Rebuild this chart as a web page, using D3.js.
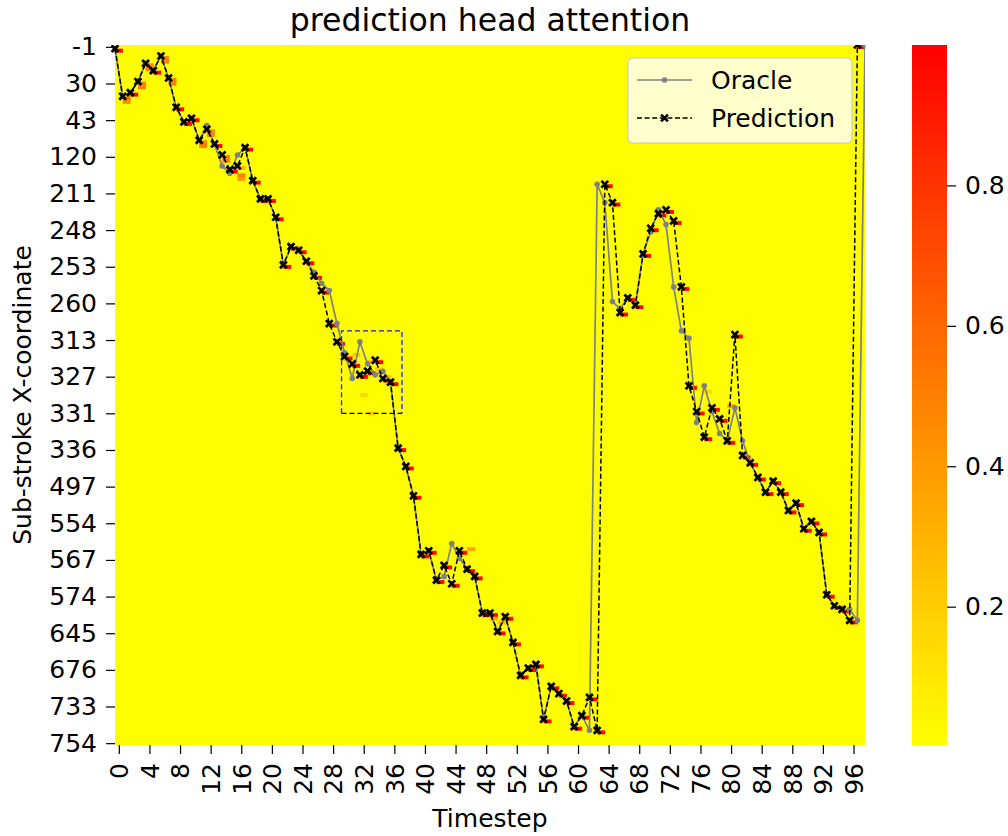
<!DOCTYPE html>
<html><head><meta charset="utf-8">
<script src="https://cdn.jsdelivr.net/npm/d3@7"></script>
<style>body{margin:0;background:#fff} text{font-family:"DejaVu Sans",sans-serif}</style>
</head><body><svg id="c" width="1008" height="836"></svg>
<script>
// ---------------- data ----------------
const nCols = 98;
const nRows = 191;
const rowLabels = ["-1","30","43","120","211","248","253","260","313","327","331","336","497","554","567","574","645","676","733","754"];
const rowLabelEvery = 10;
const xTickValues = d3.range(0, 97, 4);
const colorbarTicks = [0.2, 0.4, 0.6, 0.8];

const oracleRows = [1,14,13,10,5,7,3,9,17,21,20,26,22,27,33,35,30,28,37,42,
  42,47,60,55,56,59,62,65,67,76,84,91,81,87,90,89,92,110,115,123,
  139,138,146,145,136,140,143,145,155,155,160,156,163,172,170,169,184,175,177,179,
  186,183,187,38,43,70,72,69,71,57,51,45,49,66,78,80,103,93,100,106,
  108,99,108,114,118,122,119,122,127,125,132,130,133,150,153,154,154,157,0];
const predictionRows = [1,14,13,10,5,7,3,9,17,21,20,26,23,27,30,34,33,28,37,42,
  42,47,60,55,56,59,63,67,76,81,85,87,90,89,86,91,92,110,115,123,
  139,138,146,142,147,138,143,145,155,155,160,156,163,172,170,169,184,175,177,179,
  186,183,178,187,38,43,73,69,71,57,50,46,45,48,66,93,100,107,99,102,
  108,79,112,114,118,122,119,122,127,125,132,130,133,150,153,154,157,0];
// attention at predicted row, and at the row just below it
const peakValues = [0.97,0.55,0.97,0.5,0.5,0.97,0.5,0.5,0.97,0.97,0.97,0.5,0.5,0.97,0.5,0.97,0.3,0.97,0.97,0.97,
  0.97,0.97,0.97,0.97,0.97,0.97,0.97,0.97,0.97,0.97,0.97,0.97,0.97,0.97,0.97,0.97,0.97,0.97,0.97,0.97,
  0.97,0.97,0.97,0.97,0.97,0.97,0.97,0.97,0.97,0.97,0.97,0.97,0.97,0.97,0.97,0.97,0.97,0.97,0.97,0.97,
  0.97,0.97,0.97,0.97,0.97,0.97,0.97,0.97,0.97,0.97,0.97,0.97,0.97,0.97,0.97,0.97,0.97,0.97,0.97,0.97,
  0.97,0.97,0.97,0.97,0.97,0.97,0.97,0.97,0.97,0.97,0.97,0.97,0.97,0.97,0.97,0.97,0.97,0.97];
const belowValues = [0,0.45,0,0.5,0.5,0,0.5,0.5,0,0,0,0.5,0.5,0,0.5,0,0,0,0,0,
  0,0,0,0,0,0,0,0,0,0,0,0,0,0,0,0,0,0,0,0,
  0,0,0,0,0,0,0,0,0,0,0,0,0,0,0,0,0,0,0,0,
  0,0,0,0,0,0,0,0,0,0,0,0,0,0,0,0,0,0,0,0,
  0,0,0,0,0,0,0,0,0,0,0,0,0,0,0,0,0,0];
// other faint attention cells [timestep, row, value]
const extraCells = [[16,35,0.5],[16,36,0.4],[31,84,0.2],[33,86,0.25],[34,88,0.2],[35,90,0.25],[32,95,0.15],[33,100,0.2],
  [46,137,0.35],[80,98,0.35],[77,94,0.15],[49,156,0.3],[50,157,0.25]];
const highlightBox = {t0: 29.6, t1: 37.5, r0: 78, r1: 100.5};

// ---------------- drawing ----------------
const svg = d3.select("#c");
const x = d3.scaleLinear().domain([0, nCols]).range([115, 865]);
const y = d3.scaleLinear().domain([0, nRows]).range([45, 745]);
const color = d3.scaleLinear().domain([0, 1]).range(["#ffff00", "#ff0000"]).clamp(true);

const defs = svg.append("defs");
defs.append("clipPath").attr("id", "plotclip").append("rect")
  .attr("x", x(0) - 4).attr("y", y(0)).attr("width", x(nCols) - x(0) + 4).attr("height", y(nRows) - y(0) + 4);

const heat = svg.append("g");
heat.append("rect").attr("x", x(0)).attr("y", y(0)).attr("width", x(nCols) - x(0)).attr("height", y(nRows) - y(0)).attr("fill", color(0.003));

const cells = [];
predictionRows.forEach((r, t) => {
  cells.push({t, r, v: peakValues[t]});
  if (belowValues[t] > 0) cells.push({t, r: r + 1, v: belowValues[t]});
});
extraCells.forEach(([t, r, v]) => cells.push({t, r, v}));
heat.selectAll("rect.cell").data(cells).join("rect").attr("class", "cell")
  .attr("x", d => x(d.t)).attr("y", d => y(d.r))
  .attr("width", x(1) - x(0) + 0.3).attr("height", y(1) - y(0) + 0.3)
  .attr("fill", d => color(d.v));

// axes
const fs = 25;
const xAxis = svg.append("g").attr("transform", `translate(0,${y(nRows)})`)
  .call(d3.axisBottom(x).tickValues(xTickValues.map(d => d + 0.5)).tickFormat(d => String(Math.round(d - 0.5))).tickSize(9).tickPadding(9));
xAxis.select(".domain").remove();
xAxis.selectAll(".tick line").attr("stroke", "#000").attr("stroke-width", 1.2);
xAxis.selectAll(".tick text").attr("font-size", fs).attr("fill", "#000")
  .attr("transform", "rotate(-90)").attr("text-anchor", "end").attr("x", -18).attr("y", 0).attr("dy", "0.35em");

const yTicks = rowLabels.map((_, i) => i * rowLabelEvery + 0.5);
const yAxis = svg.append("g").attr("transform", `translate(${x(0)},0)`)
  .call(d3.axisLeft(y).tickValues(yTicks).tickFormat((d, i) => rowLabels[i]).tickSize(9).tickPadding(9));
yAxis.select(".domain").remove();
yAxis.selectAll(".tick line").attr("stroke", "#000").attr("stroke-width", 1.2);
yAxis.selectAll(".tick text").attr("font-size", fs).attr("fill", "#000");

// lines
const plot = svg.append("g").attr("clip-path", "url(#plotclip)");
const lineGen = d3.line().x(d => x(d[0])).y(d => y(d[1]));
const oracleData = oracleRows.map((r, t) => [t, r]);
const predData = predictionRows.map((r, t) => [t, r]);
plot.append("path").datum(oracleData).attr("d", lineGen).attr("fill", "none").attr("stroke", "#808080").attr("stroke-width", 1.7);
plot.append("g").selectAll("circle").data(oracleData).join("circle")
  .attr("cx", d => x(d[0])).attr("cy", d => y(d[1])).attr("r", 2.8).attr("fill", "#808080");
plot.append("path").datum(predData).attr("d", lineGen).attr("fill", "none").attr("stroke", "#000").attr("stroke-width", 1.5).attr("stroke-dasharray", "5,2.6");
const xm = 3.4;
const xMark = (cx, cy) => `M${cx - xm},${cy - xm}L${cx + xm},${cy + xm}M${cx - xm},${cy + xm}L${cx + xm},${cy - xm}`;
plot.append("g").selectAll("path").data(predData).join("path")
  .attr("d", d => xMark(x(d[0]), y(d[1])))
  .attr("stroke", "#000").attr("stroke-width", 2.7);

// highlight box
const bx0 = x(highlightBox.t0), bx1 = x(highlightBox.t1), by0 = y(highlightBox.r0), by1 = y(highlightBox.r1);
svg.append("path").attr("d", `M${bx0},${by1}L${bx0},${by0}L${bx1},${by0}L${bx1},${by1}`).attr("fill", "none").attr("stroke", "#1a1aff").attr("stroke-width", 1.3).attr("stroke-dasharray", "5,3");
svg.append("path").attr("d", `M${bx0},${by1}L${bx1},${by1}`).attr("fill", "none").attr("stroke", "#000").attr("stroke-width", 1.3).attr("stroke-dasharray", "5,3");

// title & labels
svg.append("text").attr("x", 490).attr("y", 31).attr("text-anchor", "middle").attr("font-size", 31.5).text("prediction head attention");
svg.append("text").attr("x", 490).attr("y", 827).attr("text-anchor", "middle").attr("font-size", fs).text("Timestep");
svg.append("text").attr("transform", `translate(31,395) rotate(-90)`).attr("text-anchor", "middle").attr("font-size", fs).text("Sub-stroke X-coordinate");

// legend
const lg = svg.append("g").attr("transform", "translate(628,58)");
lg.append("rect").attr("width", 224).attr("height", 85).attr("rx", 5).attr("fill", "rgba(255,255,255,0.8)").attr("stroke", "rgba(204,204,204,0.8)").attr("stroke-width", 1.5);
lg.append("line").attr("x1", 9).attr("x2", 64).attr("y1", 22).attr("y2", 22).attr("stroke", "#808080").attr("stroke-width", 1.7);
lg.append("circle").attr("cx", 36.5).attr("cy", 22).attr("r", 2.8).attr("fill", "#808080");
lg.append("text").attr("x", 83).attr("y", 22).attr("dy", "0.35em").attr("font-size", fs).text("Oracle");
lg.append("line").attr("x1", 9).attr("x2", 64).attr("y1", 60).attr("y2", 60).attr("stroke", "#000").attr("stroke-width", 1.5).attr("stroke-dasharray", "5,2.6");
lg.append("path").attr("d", xMark(36.5, 60)).attr("stroke", "#000").attr("stroke-width", 2.7);
lg.append("text").attr("x", 83).attr("y", 60).attr("dy", "0.35em").attr("font-size", fs).text("Prediction");

// colorbar
const cb = {x: 912, w: 35};
const grad = defs.append("linearGradient").attr("id", "cbg").attr("x1", 0).attr("x2", 0).attr("y1", 1).attr("y2", 0);
grad.append("stop").attr("offset", 0).attr("stop-color", color(0));
grad.append("stop").attr("offset", 1).attr("stop-color", color(1));
svg.append("rect").attr("x", cb.x).attr("y", 45).attr("width", cb.w).attr("height", 700).attr("fill", "url(#cbg)");
const cy = d3.scaleLinear().domain([0.003, 1.0]).range([745, 45]);
const cAxis = svg.append("g").attr("transform", `translate(${cb.x + cb.w},0)`)
  .call(d3.axisRight(cy).tickValues(colorbarTicks).tickFormat(d3.format(".1f")).tickSize(9).tickPadding(9));
cAxis.select(".domain").remove();
cAxis.selectAll(".tick line").attr("stroke", "#000").attr("stroke-width", 1.2);
cAxis.selectAll(".tick text").attr("font-size", fs).attr("fill", "#000");
</script></body></html>
